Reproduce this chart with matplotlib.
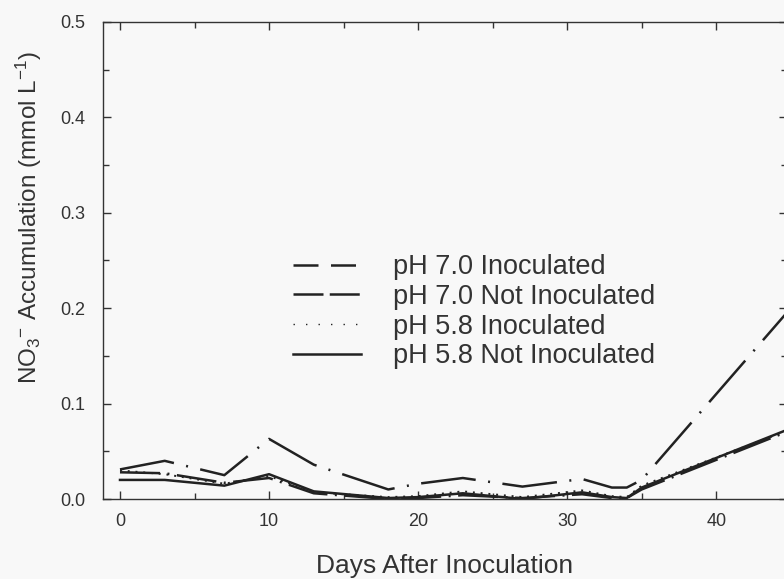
import numpy as np
import matplotlib.pyplot as plt
from matplotlib.lines import Line2D
from matplotlib.ticker import MultipleLocator

plt.rcParams['font.family'] = ['Liberation Sans', 'DejaVu Sans']
plt.rcParams['mathtext.fontset'] = 'custom'
plt.rcParams['mathtext.rm'] = 'Liberation Sans'
plt.rcParams['mathtext.it'] = 'Liberation Sans'
plt.rcParams['mathtext.sf'] = 'Liberation Sans'

#### DATA ####
days = [0, 3, 7, 10, 13, 18, 20, 23, 27, 31, 33, 34, 35, 45]

ph70_inoc     = [0.031, 0.040, 0.025, 0.063, 0.036, 0.010, 0.016, 0.022, 0.013, 0.021, 0.012, 0.012, 0.020, 0.200]
ph70_not_inoc = [0.028, 0.027, 0.017, 0.022, 0.006, 0.000, 0.001, 0.004, 0.001, 0.005, 0.001, 0.001, 0.010, 0.072]
ph58_inoc     = [0.030, 0.026, 0.016, 0.024, 0.007, 0.002, 0.003, 0.008, 0.002, 0.009, 0.003, 0.002, 0.014, 0.073]
ph58_not_inoc = [0.020, 0.020, 0.014, 0.026, 0.008, 0.001, 0.002, 0.006, 0.000, 0.007, 0.002, 0.001, 0.012, 0.074]

labels = ["pH 7.0 Inoculated", "pH 7.0 Not Inoculated",
          "pH 5.8 Inoculated", "pH 5.8 Not Inoculated"]

ink = '#222222'
txt = '#333333'

fig = plt.figure(figsize=(7.84, 5.79), dpi=100, facecolor='#f8f8f8')
ax = fig.add_axes([103/784, 1 - 499/579, (787 - 103)/784, (499 - 22)/579])
ax.set_facecolor('#f8f8f8')

lw = 1.8
ax.plot(days, ph70_inoc, color=ink, lw=lw, dashes=(22, 5, 0.8, 5))
ax.plot(days, ph70_not_inoc, color=ink, lw=lw, dashes=(16, 3, 0.8, 3))
ax.plot(days, ph58_inoc, color=ink, lw=1.4, dashes=(1, 3))
ax.plot(days, ph58_not_inoc, color=ink, lw=lw)

ax.set_xlim(-1.14, 44.75)
ax.set_ylim(0, 0.5)
ax.xaxis.set_major_locator(MultipleLocator(10))
ax.xaxis.set_minor_locator(MultipleLocator(5))
ax.yaxis.set_major_locator(MultipleLocator(0.1))
ax.yaxis.set_minor_locator(MultipleLocator(0.05))
ax.yaxis.set_major_formatter(plt.FormatStrFormatter('%.1f'))

ax.tick_params(which='both', direction='in', top=True, right=True,
               color=txt, labelcolor=txt, labelsize=13)
ax.tick_params(which='major', length=6, width=1)
ax.tick_params(which='minor', length=4, width=1)
ax.tick_params(axis='x', pad=10)
ax.tick_params(axis='y', pad=13)
for s in ax.spines.values():
    s.set_color(txt)
    s.set_linewidth(1.0)

ax.set_xlabel("Days After Inoculation", fontsize=19, color=txt)
ax.xaxis.set_label_coords(0.5, (499 - 554) / 477)
ax.set_ylabel(r"NO$_3$$^{\mathsf{-}}$ Accumulation (mmol L$^{\mathsf{-1}}$)", fontsize=17.5,
              color=txt)
ax.yaxis.set_label_coords((44 - 103) / 684, 0.59)

# legend proxies (the legend uses plain dashes)
handles = [Line2D([], [], color=ink, lw=lw, dashes=(10, 5)),
           Line2D([], [], color=ink, lw=lw, dashes=(12, 2.5)),
           Line2D([], [], color=ink, lw=1.0, dashes=(1, 8)),
           Line2D([], [], color=ink, lw=lw)]
leg = ax.legend(handles, labels, loc='upper left', frameon=False,
                bbox_to_anchor=(293/784, 1 - 254/579), bbox_transform=fig.transFigure,
                fontsize=19.5, handlelength=2.5, handletextpad=1.2,
                labelspacing=0.14, borderpad=0, borderaxespad=0)
for t in leg.get_texts():
    t.set_color(txt)

fig.savefig('out.png', dpi=100, facecolor=fig.get_facecolor())
